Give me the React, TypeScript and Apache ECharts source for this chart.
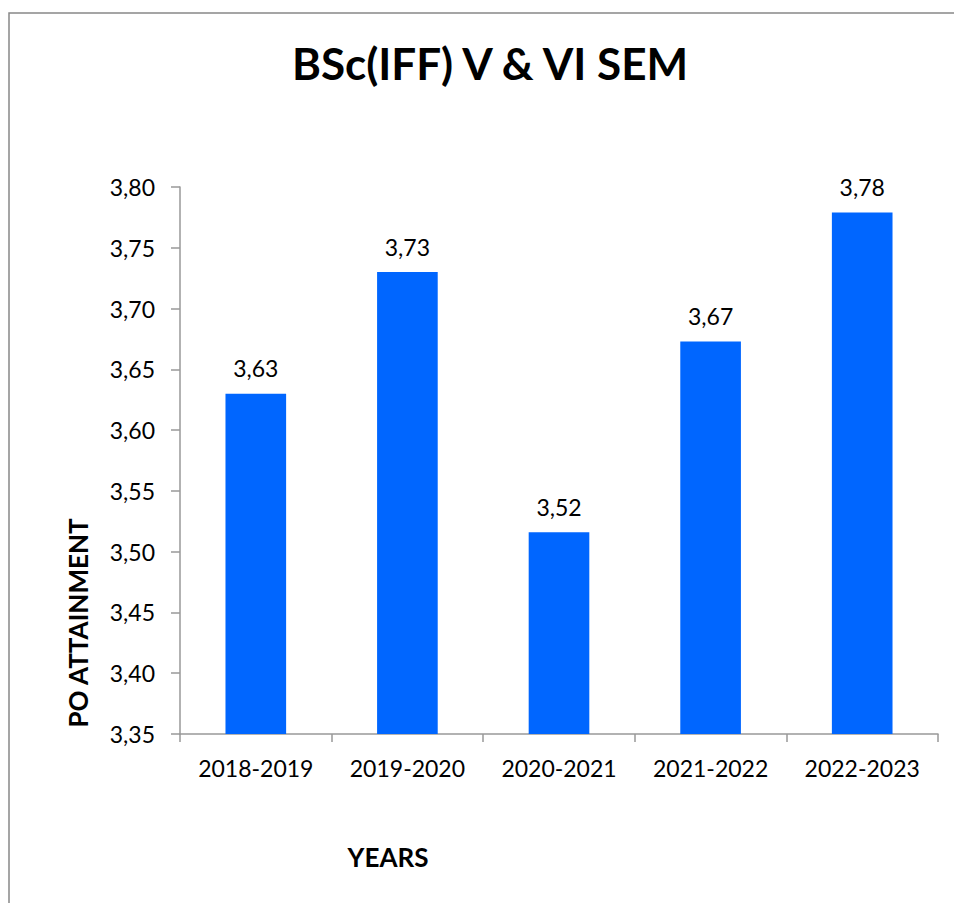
import React, { useEffect, useRef } from "react";
import * as echarts from "echarts";

const categories = ["2018-2019", "2019-2020", "2020-2021", "2021-2022", "2022-2023"];
const values = [3.63, 3.73, 3.516, 3.673, 3.779];
const yTicks = { min: 3.35, max: 3.8, interval: 0.05 };
const titleText = "BSc(IFF) V & VI SEM";
const yName = "PO ATTAINMENT";
const xName = "YEARS";

const FONT = "Lato, 'Open Sans', sans-serif";

export default function App() {
  const ref = useRef<HTMLDivElement>(null);
  useEffect(() => {
    if (!ref.current) return;
    const chart = echarts.init(ref.current, null, { renderer: "svg" });
    chart.setOption({
      animation: false,
      backgroundColor: "#ffffff",
      textStyle: { fontFamily: FONT },
      title: {
        text: titleText,
        left: 485,
        textAlign: "center",
        top: 36,
        textStyle: { fontSize: 44, fontWeight: "bold", color: "#000", fontFamily: FONT },
      },
      grid: { left: 180, top: 187, right: 16, bottom: 169, containLabel: false },
      xAxis: {
        type: "category",
        data: categories,
        boundaryGap: true,
        axisLine: { lineStyle: { color: "#999", width: 1.5 } },
        axisTick: { show: true, length: 8, alignWithLabel: false, lineStyle: { color: "#999", width: 1.5 } },
        axisLabel: { color: "#000", fontSize: 23, margin: 22, fontFamily: FONT },
      },
      yAxis: {
        type: "value",
        min: yTicks.min,
        max: yTicks.max,
        interval: yTicks.interval,
        splitLine: { show: false },
        axisLine: { show: true, lineStyle: { color: "#999", width: 1.5 } },
        axisTick: { show: true, length: 9, lineStyle: { color: "#999", width: 1.5 } },
        axisLabel: {
          color: "#000",
          fontSize: 23,
          margin: 25,
          fontFamily: FONT,
          formatter: (v: number) => v.toFixed(2).replace(".", ","),
        },
      },
      series: [
        {
          type: "bar",
          data: values,
          barWidth: "40%",
          itemStyle: { color: "#0066FF" },
          label: {
            show: true,
            position: "top",
            distance: 14,
            color: "#000",
            fontSize: 23,
            fontFamily: FONT,
            formatter: (p: any) => Number(p.value).toFixed(2).replace(".", ","),
          },
        },
      ],
      graphic: [
        {
          type: "rect",
          shape: { x: 9, y: 13, width: 1200, height: 1200 },
          style: { fill: "none", stroke: "#888", lineWidth: 1.5 },
          silent: true,
        },
        {
          type: "text",
          x: 78,
          y: 623,
          rotation: Math.PI / 2,
          style: {
            text: yName,
            fontSize: 26,
            fontWeight: "bold",
            fontFamily: FONT,
            fill: "#000",
            align: "center",
            verticalAlign: "middle",
          },
        },
        {
          type: "text",
          x: 388,
          y: 857,
          style: {
            text: xName,
            fontSize: 26,
            fontWeight: "bold",
            fontFamily: FONT,
            fill: "#000",
            align: "center",
            verticalAlign: "middle",
          },
        },
      ],
    });
    return () => chart.dispose();
  }, []);
  return (
    <div
      ref={ref}
      style={{ position: "absolute", left: 0, top: 0, width: 954, height: 903 }}
    />
  );
}
